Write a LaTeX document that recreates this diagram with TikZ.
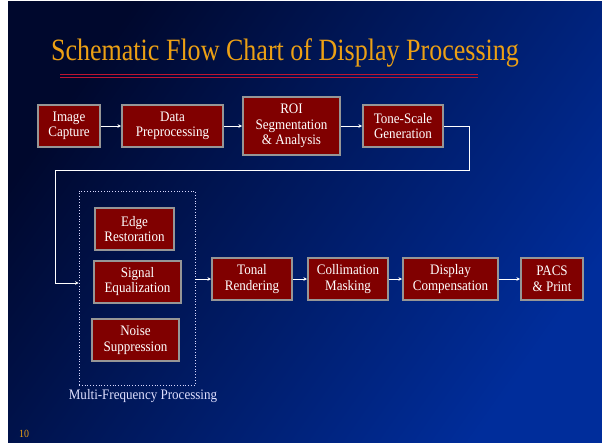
\documentclass[tikz,border=0pt]{standalone}
\usepackage{fontspec}
\setmainfont[FakeStretch=0.9]{Liberation Serif}
\newfontfamily\titlefont[FakeStretch=0.84]{Liberation Serif}
\usepackage{tikz}
\usetikzlibrary{arrows.meta}
\definecolor{boxred}{RGB}{128,0,0}
\definecolor{boxrim}{RGB}{150,150,150}
\definecolor{titleorange}{RGB}{236,160,20}
\definecolor{rulered}{RGB}{190,20,50}
\definecolor{bgA}{RGB}{0,8,45}
\definecolor{bgD}{RGB}{0,45,155}

\begin{document}
\begin{tikzpicture}[x=1pt, y=-1pt,
    proc/.style = {draw=boxrim, line width=2pt, fill=boxred, text=white,
                   align=center, minimum height=42pt, inner sep=2pt,
                   font=\fontsize{14.5}{15.5}\selectfont},
    arr/.style = {white, line width=0.8pt, -{Stealth[length=3.5pt,width=3.5pt]}},
    group/.style = {draw=white!85!blue, dotted, line width=0.8pt}]
    % slide background
    \fill[white] (0,0) rectangle (602,442);
    \shade[left color=bgA, right color=bgD, shading angle=55]
        (8,1) rectangle (602,442);
    \useasboundingbox (0,0) rectangle (602,442);
    % title
    \node (title) at (285,52.5) {\titlefont\fontsize{31}{34}\selectfont\color{titleorange}Schematic Flow Chart of Display Processing};
    \draw[rulered, line width=0.8pt] (60,74.5) -- (478,74.5);
    \draw[rulered, line width=0.8pt] (60,77) -- (478,77);
    % first row
    \node[proc, minimum width=62pt] (capture) at (69,126) {Image\\Capture};
    \node[proc, minimum width=101pt] (prep) at (172.5,126) {Data\\Preprocessing};
    \node[proc, minimum width=97pt, minimum height=58pt] (roi) at (291.5,126) {ROI\\Segmentation\\\& Analysis};
    \node[proc, minimum width=80pt] (tone) at (403,126) {Tone-Scale\\Generation};
    % multi-frequency block
    \node[group, minimum width=116pt, minimum height=194pt] (mfp) at (137,288) {};
    \node[text=white!88!blue, font=\fontsize{14.5}{15.5}\selectfont] (mfplabel) at (143,396) {Multi-Frequency Processing};
    \node[proc, minimum width=79pt] (edge) at (134.5,229) {Edge\\Restoration};
    \node[proc, minimum width=87pt] (signal) at (137.5,281.5) {Signal\\Equalization};
    \node[proc, minimum width=87pt] (noise) at (135.5,340) {Noise\\Suppression};
    % second row
    \node[proc, minimum width=80pt] (tonal) at (252,279) {Tonal\\Rendering};
    \node[proc, minimum width=80pt] (collim) at (348,279) {Collimation\\Masking};
    \node[proc, minimum width=95pt] (display) at (450.5,279) {Display\\Compensation};
    \node[proc, minimum width=62pt] (pacs) at (552,279) {PACS\\\& Print};
    % connectors
    \coordinate (turnR) at (469,170);
    \coordinate (turnL) at (55,170);
    \draw[arr] (capture) -- (prep);
    \draw[arr] (prep) -- (roi);
    \draw[arr] (roi) -- (tone);
    \draw[arr] (tone.east) -| (turnR) -- (turnL) |- ([yshift=5pt]mfp.west);
    \draw[arr] (mfp.east |- tonal.west) -- (tonal);
    \draw[arr] (tonal) -- (collim);
    \draw[arr] (collim) -- (display);
    \draw[arr] (display) -- (pacs);
    % page number
    \node[text=titleorange, font=\fontsize{11}{12}\selectfont] (pageno) at (24,434) {10};
\end{tikzpicture}
\end{document}
